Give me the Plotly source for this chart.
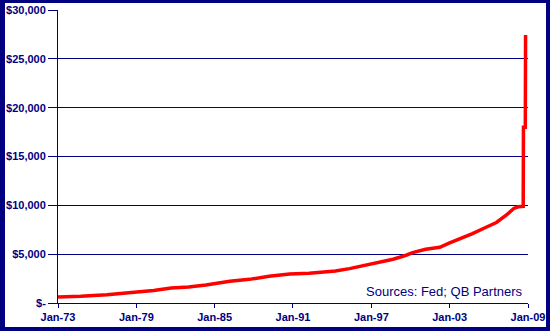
import plotly.graph_objects as go

# Data
dates = ["1973-01-01", "1974-10-01", "1976-10-01", "1977-11-01", "1978-11-01",
         "1980-05-01", "1981-09-01", "1983-01-01", "1984-05-01", "1986-03-01",
         "1987-09-01", "1989-03-01", "1990-10-01", "1992-04-01", "1993-01-01",
         "1994-04-01", "1995-05-01", "1996-05-01", "1997-09-01", "1998-09-01",
         "1999-09-01", "2000-03-01", "2001-03-01", "2002-04-01", "2003-01-01",
         "2003-10-01", "2004-10-01", "2005-10-01", "2006-08-01", "2007-05-01",
         "2007-12-01", "2008-04-01", "2008-08-20", "2008-08-27", "2008-10-18",
         "2008-10-25"]
values = [620, 680, 850, 950, 1090, 1290, 1530, 1630, 1840, 2220,
          2420, 2730, 2970, 3040, 3110, 3280, 3520, 3830, 4200, 4480,
          4890, 5160, 5500, 5710, 6150, 6530, 7110, 7730, 8240, 8990,
          9680, 9850, 9900, 18000, 18000, 27450]

x_tick_vals = ["1973-01-01", "1979-01-01", "1985-01-01", "1991-01-01",
               "1997-01-01", "2003-01-01", "2009-01-01"]
x_tick_text = ["Jan-73", "Jan-79", "Jan-85", "Jan-91", "Jan-97", "Jan-03", "Jan-09"]
y_tick_vals = [0, 5000, 10000, 15000, 20000, 25000, 30000]
y_tick_text = ["$-", "$5,000", "$10,000", "$15,000", "$20,000", "$25,000", "$30,000"]
source_text = "Sources: Fed; QB Partners"

NAVY = "#000080"
FONT = "Liberation Sans, Arial, sans-serif"

W, H = 550, 331
ML, MR, MT, MB = 58, 22, 10, 28
PW, PH = W - ML - MR, H - MT - MB

def px_x(px):
    return (px - ML) / PW

def px_y(py):
    return (H - MB - py) / PH

fig = go.Figure()
fig.add_trace(go.Scatter(
    x=dates, y=values, mode="lines",
    line=dict(color="#FF0000", width=3.5),
    hoverinfo="skip", showlegend=False,
))

fig.update_layout(
    width=W, height=H,
    margin=dict(l=ML, r=MR, t=MT, b=MB, pad=0, autoexpand=False),
    paper_bgcolor="white", plot_bgcolor="white",
    font=dict(family=FONT, color=NAVY, size=11),
    xaxis=dict(
        type="date", automargin=False,
        range=["1973-01-01", "2009-01-01"],
        tickmode="array", tickvals=x_tick_vals,
        ticktext=["<b>%s</b>" % t for t in x_tick_text],
        ticks="outside", ticklen=4, tickcolor=NAVY, tickwidth=1,
        showgrid=False, showline=True, linecolor=NAVY, linewidth=1,
        zeroline=False, tickfont=dict(size=11, color=NAVY, family=FONT),
        fixedrange=True,
    ),
    yaxis=dict(
        range=[0, 30000], automargin=False,
        tickmode="array", tickvals=y_tick_vals,
        ticktext=["<b>%s</b>" % t for t in y_tick_text],
        ticks="outside", ticklen=9, tickcolor=NAVY, tickwidth=1,
        showgrid=True, gridcolor=NAVY, gridwidth=1,
        showline=True, linecolor=NAVY, linewidth=1,
        zeroline=False, tickfont=dict(size=11, color=NAVY, family=FONT),
        fixedrange=True,
    ),
    annotations=[dict(
        text=source_text, xref="paper", yref="paper",
        x=px_x(525), y=px_y(291), xanchor="right", yanchor="middle",
        showarrow=False, font=dict(size=13, color=NAVY, family=FONT),
    )],
    shapes=[
        # outer frame
        dict(type="rect", xref="paper", yref="paper",
             x0=px_x(0), x1=px_x(5), y0=px_y(H), y1=px_y(0),
             fillcolor=NAVY, line=dict(width=0), layer="above"),
        dict(type="rect", xref="paper", yref="paper",
             x0=px_x(W - 4), x1=px_x(W), y0=px_y(H), y1=px_y(0),
             fillcolor=NAVY, line=dict(width=0), layer="above"),
        dict(type="rect", xref="paper", yref="paper",
             x0=px_x(0), x1=px_x(W), y0=px_y(3), y1=px_y(0),
             fillcolor=NAVY, line=dict(width=0), layer="above"),
        dict(type="rect", xref="paper", yref="paper",
             x0=px_x(0), x1=px_x(W), y0=px_y(H), y1=px_y(H - 4),
             fillcolor=NAVY, line=dict(width=0), layer="above"),
    ],
)

fig.write_html("out.html", config={"displayModeBar": False})
